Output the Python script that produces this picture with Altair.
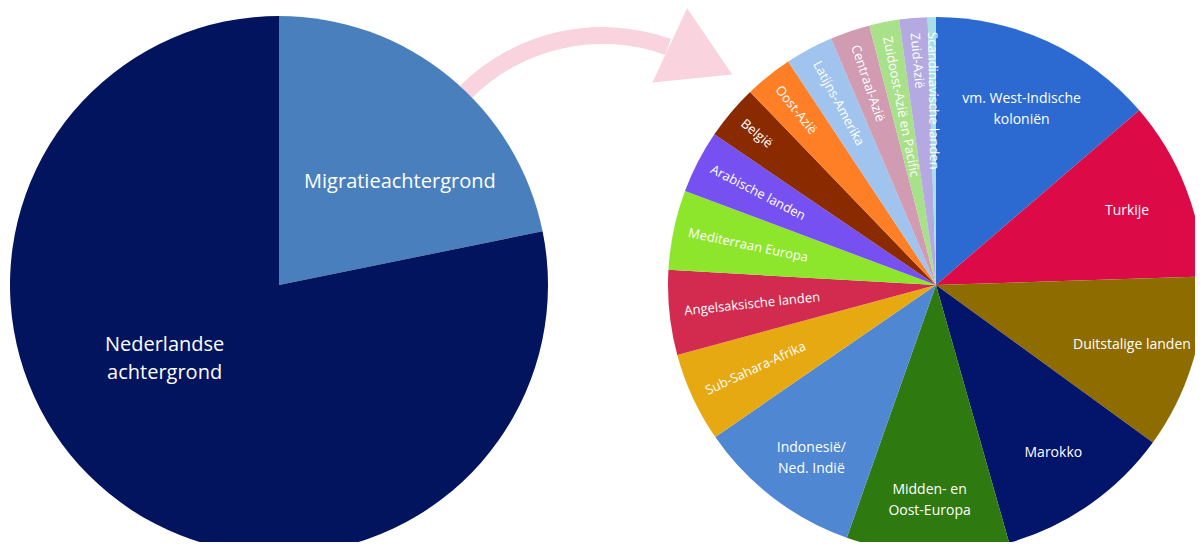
import math
import altair as alt
import pandas as pd

# ---------------- data ----------------
left_cats = ["Migratieachtergrond", "Nederlandse achtergrond"]
left_labels = ["Migratieachtergrond", "Nederlandse\nachtergrond"]
left_values = [21.8, 78.2]
left_colors = ["#4a7fbe", "#03145f"]

right_cats = [
    "vm. West-Indische koloniën", "Turkije", "Duitstalige landen", "Marokko",
    "Midden- en Oost-Europa", "Indonesië/Ned. Indië", "Sub-Sahara-Afrika",
    "Angelsaksische landen", "Mediterraan Europa", "Arabische landen", "België",
    "Oost-Azië", "Latijns-Amerika", "Centraal-Azië", "Zuidoost-Azië en Pacific",
    "Zuid-Azië", "Scandinavische landen",
]
right_labels = [
    "vm. West-Indische\nkoloniën", "Turkije", "Duitstalige landen", "Marokko",
    "Midden- en\nOost-Europa", "Indonesië/\nNed. Indië", "Sub-Sahara-Afrika",
    "Angelsaksische landen", "Mediterraan Europa", "Arabische landen", "België",
    "Oost-Azië", "Latijns-Amerika", "Centraal-Azië", "Zuidoost-Azië en Pacific",
    "Zuid-Azië", "Scandinavische landen",
]
right_values = [13.7, 10.8, 10.5, 10.6, 9.8, 10.0, 5.4, 5.1, 4.8, 3.8, 3.3,
                2.9, 2.9, 2.4, 1.8, 1.7, 0.5]
right_colors = [
    "#2c6ad2", "#dc0a46", "#8f6c00", "#03146b", "#2f7a10", "#4f87d2", "#e7a912",
    "#d22b4f", "#8ee62c", "#7650f0", "#8a2a00", "#ff7f27", "#a0c4ee", "#d19bb2",
    "#a9e08a", "#b5a9e2", "#a6dfe6",
]

left_df = pd.DataFrame({"idx": range(len(left_cats)), "cat": left_cats,
                        "label": left_labels, "value": left_values})
right_df = pd.DataFrame({"idx": range(len(right_cats)), "cat": right_cats,
                         "label": right_labels, "value": right_values})

# ---------------- styling / layout ----------------
FONT = "Open Sans"
PINK = "#f9d3de"
LCX, LCY, LR = 271, 277, 269
RCX, RCY, RR = 928, 277, 268

theta_scale = alt.Scale(domain=[0, 1], range=[0, 2 * math.pi])
color_scale = alt.Scale(domain=left_cats + right_cats, range=left_colors + right_colors)


def with_angles(chart):
    return (
        chart.transform_window(cum="sum(value)", sort=[alt.SortField("idx")], frame=[None, 0])
        .transform_joinaggregate(total="sum(value)")
        .transform_calculate(
            start="(datum.cum - datum.value) / datum.total",
            end="datum.cum / datum.total",
            mid="(datum.cum - datum.value / 2) / datum.total",
            tangle="(datum.mid * 360 + 90) % 360",
        )
    )


# left pie
left_arc = with_angles(alt.Chart(left_df)).mark_arc(radius=LR, stroke=None).encode(
    theta=alt.Theta("start:Q", scale=theta_scale, stack=None),
    theta2="end:Q",
    color=alt.Color("cat:N", scale=color_scale, legend=None),
    x=alt.value(LCX), y=alt.value(LCY),
)
left_txt1 = with_angles(alt.Chart(left_df)).transform_filter(
    alt.datum.idx == 0
).mark_text(radius=150, dx=26, dy=13, font=FONT, fontSize=20, color="white",
            align="center", baseline="middle").encode(
    theta=alt.Theta("mid:Q", scale=theta_scale, stack=None),
    text="label:N", x=alt.value(LCX), y=alt.value(LCY),
)
left_txt2 = with_angles(alt.Chart(left_df)).transform_filter(
    alt.datum.idx == 1
).mark_text(radius=135, dx=-29, dy=-45, font=FONT, fontSize=20, color="white",
            align="center", baseline="middle", lineBreak="\n", lineHeight=28).encode(
    theta=alt.Theta("mid:Q", scale=theta_scale, stack=None),
    text="label:N", x=alt.value(LCX), y=alt.value(LCY),
)

# right pie
right_arc = with_angles(alt.Chart(right_df)).mark_arc(radius=RR, stroke=None).encode(
    theta=alt.Theta("start:Q", scale=theta_scale, stack=None),
    theta2="end:Q",
    color=alt.Color("cat:N", scale=color_scale, legend=None),
    x=alt.value(RCX), y=alt.value(RCY),
)
right_big = with_angles(alt.Chart(right_df)).transform_filter(
    alt.datum.value >= 9
).mark_text(radius=205, font=FONT, fontSize=14, color="white", align="center",
            baseline="middle", lineBreak="\n", lineHeight=21).encode(
    theta=alt.Theta("mid:Q", scale=theta_scale, stack=None),
    text="label:N", x=alt.value(RCX), y=alt.value(RCY),
)
right_small = with_angles(alt.Chart(right_df)).transform_filter(
    alt.datum.value < 9
).mark_text(radius=253, font=FONT, fontSize=13, color="white", align="left",
            baseline="middle").encode(
    theta=alt.Theta("mid:Q", scale=theta_scale, stack=None),
    angle=alt.Angle("tangle:Q", scale=None),
    text="label:N", x=alt.value(RCX), y=alt.value(RCY),
)

# decorative arrow between the pies
arrow_df = pd.DataFrame({"k": [0]})
arrow_band = alt.Chart(arrow_df).mark_arc(
    radius=185, radius2=202, theta=5.50, theta2=6.629, color=PINK, stroke=None
).encode(x=alt.value(594.5), y=alt.value(221))
arrow_head = alt.Chart(arrow_df).mark_point(
    shape="M-0.84,-1L0.84,0L-0.84,1Z", filled=True, size=6724, angle=25,
    color=PINK, opacity=1, strokeWidth=0
).encode(x=alt.value(693), y=alt.value(52))

chart = alt.layer(
    arrow_band, arrow_head, left_arc, left_txt1, left_txt2,
    right_arc, right_big, right_small,
).properties(
    width=1187, height=534, padding=0, autosize=alt.AutoSizeParams(type="none"),
    background="white",
).configure_view(stroke=None)

chart.save("out.html", embed_options={"renderer": "svg", "actions": False})
